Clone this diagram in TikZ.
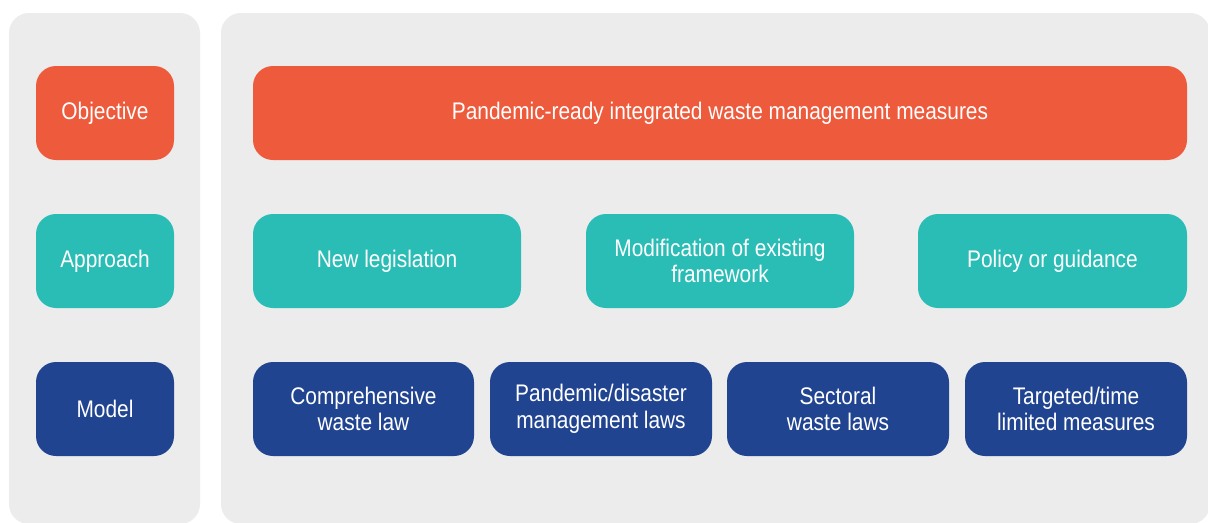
\documentclass[tikz,border=0pt]{standalone}
\usepackage{fontspec}
\setmainfont[FakeStretch=0.87]{Liberation Sans}
\definecolor{panelgray}{HTML}{ECECEC}
\definecolor{objorange}{HTML}{EE5A3C}
\definecolor{appteal}{HTML}{2ABDB6}
\definecolor{modnavy}{HTML}{214491}
\begin{document}
\begin{tikzpicture}[x=0.75pt,y=-0.75pt,
  panel/.style={fill=panelgray,rounded corners=15pt},
  box/.style={rectangle,rounded corners=15pt,inner sep=0pt,text=white,align=center,
    font=\fontsize{18pt}{20pt}\selectfont,minimum height=70.5pt},
  objbox/.style={box,fill=objorange},
  appbox/.style={box,fill=appteal},
  modbox/.style={box,fill=modnavy},
  labw/.style={minimum width=103.5pt}]
\useasboundingbox (0,0) rectangle (1208,522);
\fill[white] (0,0) rectangle (1208,522);
\fill[panel] (9,13) rectangle (200,524);
\fill[panel] (221,13) rectangle (1210,524);
% row labels
\node[objbox,labw] (objective) at (105,113) {Objective};
\node[appbox,labw] (approach) at (105,261) {Approach};
\node[modbox,labw] (model) at (105,409) {Model};
% objective row
\node[objbox,minimum width=700.5pt] (goal) at (720,113) {Pandemic-ready integrated waste management measures};
% approach row
\node[appbox,minimum width=201pt] (newleg) at (387,261) {New legislation};
\node[appbox,minimum width=201pt] (modif) at (720,261) {Modification of existing\\framework};
\node[appbox,minimum width=201.75pt] (policy) at (1052.5,261) {Policy or guidance};
% model row
\node[modbox,minimum width=165.75pt] (compr) at (363.5,409) {Comprehensive\\waste law};
\node[modbox,minimum width=166.5pt] (pand) at (601,409) {Pandemic/disaster\\management laws};
\node[modbox,minimum width=166.5pt] (sect) at (838,409) {Sectoral\\waste laws};
\node[modbox,minimum width=166.5pt] (targ) at (1076,409) {Targeted/time\\limited measures};
\end{tikzpicture}
\end{document}
